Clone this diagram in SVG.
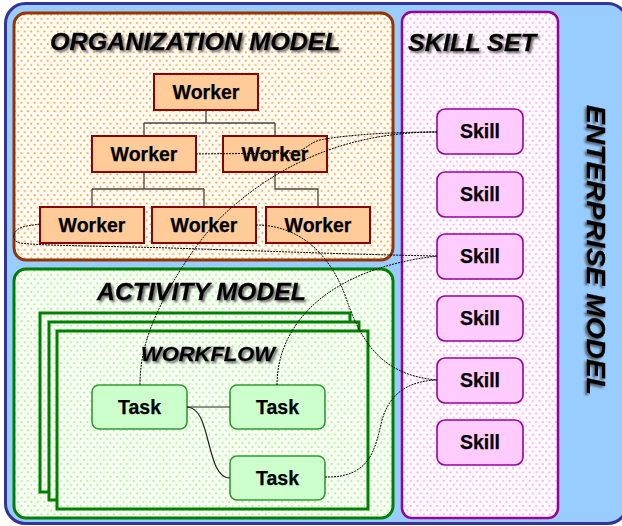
<svg xmlns="http://www.w3.org/2000/svg" width="622" height="526" viewBox="0 0 622 526">
  <defs>
    <pattern id="dotsOrange" width="6.6" height="8.4" patternUnits="userSpaceOnUse">
      <rect width="6.6" height="8.4" fill="#FFFDF7"/>
      <circle cx="1.6" cy="2" r="1.05" fill="#FFA22E"/>
      <circle cx="4.9" cy="6.2" r="1.05" fill="#FFA22E"/>
    </pattern>
    <pattern id="dotsPink" width="6.6" height="8.4" patternUnits="userSpaceOnUse">
      <rect width="6.6" height="8.4" fill="#FFFBFF"/>
      <circle cx="1.6" cy="2" r="1.05" fill="#FFA0F2"/>
      <circle cx="4.9" cy="6.2" r="1.05" fill="#FFA0F2"/>
    </pattern>
    <pattern id="dotsGreen" width="6.6" height="8.4" patternUnits="userSpaceOnUse">
      <rect width="6.6" height="8.4" fill="#FAFFF6"/>
      <circle cx="1.6" cy="2" r="1.05" fill="#A2F28A"/>
      <circle cx="4.9" cy="6.2" r="1.05" fill="#A2F28A"/>
    </pattern>
    <filter id="shadow" x="-5%" y="-20%" width="115%" height="160%">
      <feDropShadow dx="2" dy="2" stdDeviation="1" flood-color="#444" flood-opacity="0.75"/>
    </filter>
    <style>
      .title { font-family: "Liberation Sans", Arial, sans-serif; font-weight: bold; font-style: italic; fill: #000; stroke: #000; stroke-width: 0.3; filter: url(#shadow); }
      .lbl { font-family: "Liberation Sans", Arial, sans-serif; font-weight: bold; font-size: 19.5px; fill: #000; stroke: #000; stroke-width: 0.25; text-anchor: middle; }
      .worker rect { fill: #FFCC99; stroke: #8B0000; stroke-width: 2; }
      .skill rect { fill: #FFCCFF; stroke: #990099; stroke-width: 1.6; }
      .task rect { fill: #CCFFCC; stroke: #339933; stroke-width: 1.6; }
      .tree { fill: none; stroke: #444; stroke-width: 1.3; }
      .flow { fill: none; stroke: #222; stroke-width: 1.2; }
      .link { fill: none; stroke: #000; stroke-width: 1; stroke-dasharray: 2 1; }
      .stack { fill: url(#dotsGreen); stroke: #008000; stroke-width: 3; }
    </style>
  </defs>

  <!-- enterprise model frame -->
  <g id="enterprise-model">
    <rect x="5.5" y="3.5" width="622" height="520" rx="20" fill="#99CCFF" stroke="#333399" stroke-width="3"/>
    <text class="title" font-size="26" transform="translate(587,105) rotate(90)" textLength="290" lengthAdjust="spacingAndGlyphs">ENTERPRISE MODEL</text>
  </g>

  <!-- organization model -->
  <g id="organization-model">
    <rect x="14" y="13" width="379" height="247" rx="12" fill="url(#dotsOrange)" stroke="#993300" stroke-width="3"/>
    <text class="title" x="50" y="50" font-size="24" textLength="290" lengthAdjust="spacingAndGlyphs">ORGANIZATION MODEL</text>
  </g>

  <!-- activity model -->
  <g id="activity-model">
    <rect x="14" y="269" width="379" height="249" rx="12" fill="url(#dotsGreen)" stroke="#008000" stroke-width="3"/>
    <text class="title" x="97" y="300" font-size="24" textLength="209" lengthAdjust="spacingAndGlyphs">ACTIVITY MODEL</text>
  </g>

  <!-- skill set -->
  <g id="skill-set">
    <rect x="402" y="12" width="156" height="506" rx="10" fill="url(#dotsPink)" stroke="#990099" stroke-width="2.5"/>
    <text class="title" x="408" y="51" font-size="24" textLength="128" lengthAdjust="spacingAndGlyphs">SKILL SET</text>
  </g>

  <!-- workflow stack -->
  <g id="workflow">
    <rect class="stack" x="40" y="313" width="310" height="179"/>
    <rect class="stack" x="49" y="322" width="310" height="178"/>
    <rect class="stack" x="57" y="331" width="311" height="178"/>
    <text class="title" x="141" y="361" font-size="21" textLength="134" lengthAdjust="spacingAndGlyphs">WORKFLOW</text>
  </g>

  <!-- organization tree lines -->
  <g id="org-tree">
    <path class="tree" d="M206,110 V123 M144,123 H275 M144,123 V136 M275,123 V136"/>
    <path class="tree" d="M144,172 V189 M92,189 H204 M92,189 V207 M204,189 V207"/>
    <path class="tree" d="M275,172 V189 H318 V207"/>
  </g>

  <!-- workers -->
  <g id="worker-1" class="worker"><rect x="154" y="74" width="104" height="36"/><text class="lbl" x="206" y="99">Worker</text></g>
  <g id="worker-2" class="worker"><rect x="92" y="136" width="104" height="36"/><text class="lbl" x="144" y="161">Worker</text></g>
  <g id="worker-3" class="worker"><rect x="223" y="136" width="104" height="36"/><text class="lbl" x="275" y="161">Worker</text></g>
  <g id="worker-4" class="worker"><rect x="40" y="207" width="104" height="36"/><text class="lbl" x="92" y="232">Worker</text></g>
  <g id="worker-5" class="worker"><rect x="152" y="207" width="104" height="36"/><text class="lbl" x="204" y="232">Worker</text></g>
  <g id="worker-6" class="worker"><rect x="266" y="207" width="104" height="36"/><text class="lbl" x="318" y="232">Worker</text></g>

  <!-- skills -->
  <g id="skill-1" class="skill"><rect x="437" y="109" width="86" height="45" rx="8"/><text class="lbl" x="480" y="138">Skill</text></g>
  <g id="skill-2" class="skill"><rect x="437" y="172" width="86" height="45" rx="8"/><text class="lbl" x="480" y="201">Skill</text></g>
  <g id="skill-3" class="skill"><rect x="437" y="234" width="86" height="45" rx="8"/><text class="lbl" x="480" y="263">Skill</text></g>
  <g id="skill-4" class="skill"><rect x="437" y="296" width="86" height="45" rx="8"/><text class="lbl" x="480" y="325">Skill</text></g>
  <g id="skill-5" class="skill"><rect x="437" y="358" width="86" height="45" rx="8"/><text class="lbl" x="480" y="387">Skill</text></g>
  <g id="skill-6" class="skill"><rect x="437" y="420" width="86" height="45" rx="8"/><text class="lbl" x="480" y="449">Skill</text></g>

  <!-- tasks -->
  <g id="task-1" class="task"><rect x="92" y="385" width="95" height="44" rx="7"/><text class="lbl" x="139.5" y="414">Task</text></g>
  <g id="task-2" class="task"><rect x="230" y="385" width="95" height="44" rx="7"/><text class="lbl" x="277.5" y="414">Task</text></g>
  <g id="task-3" class="task"><rect x="230" y="456" width="95" height="44" rx="7"/><text class="lbl" x="277.5" y="485">Task</text></g>

  <!-- connectors -->
  <g id="connectors">
    <path class="flow" d="M187,407 H230" stroke="#666"/>
    <path class="flow" d="M187,407 C212,407 205,478 230,478"/>
    <path class="link" d="M196,154 L290,153 C305,152 308,143 320,140 C350,134 400,132 437,132"/>
    <path class="link" d="M437,132 C370,132 300,150 237,203 C200,232 165,290 150,330 C142,352 140,370 140,385"/>
    <path class="link" d="M437,256 C380,255 320,253 200,249 C120,246 40,246 20,243 C10,241 12,228 27,226 L40,224"/>
    <path class="link" d="M256,225 C300,225 330,255 345,295 C360,340 380,375 437,380"/>
    <path class="link" d="M277,385 C277,330 320,270 437,256"/>
    <path class="link" d="M325,477 C370,478 375,450 382,420 C390,392 410,381 437,380"/>
  </g>
</svg>
